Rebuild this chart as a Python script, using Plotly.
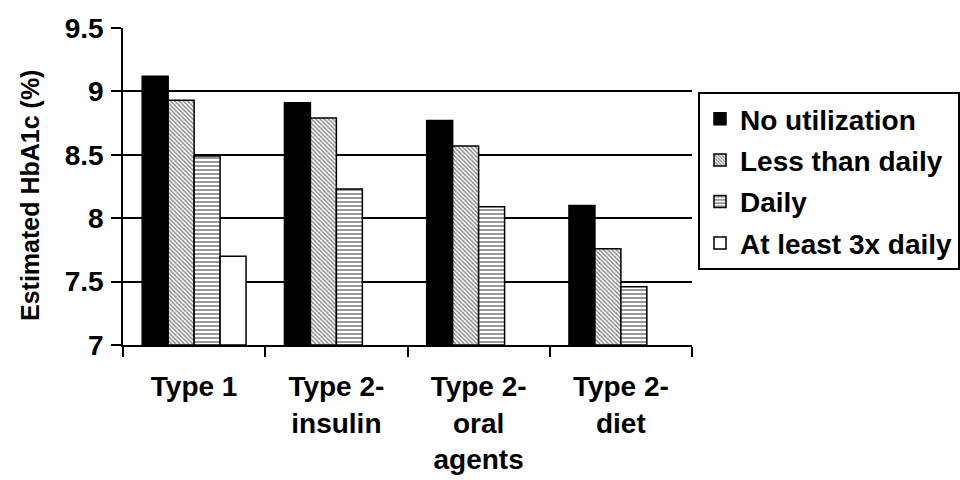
import plotly.graph_objects as go

categories = ["Type 1", "Type 2-<br>insulin", "Type 2-<br>oral<br>agents", "Type 2-<br>diet"]
series_names = ["No utilization", "Less than daily", "Daily", "At least 3x daily"]
no_util = [9.12, 8.91, 8.77, 8.10]
less_daily = [8.93, 8.79, 8.57, 7.76]
daily = [8.49, 8.23, 8.09, 7.46]
three_x = [7.70, None, None, None]
y_ticks = [7, 7.5, 8, 8.5, 9, 9.5]
y_tick_labels = ["7", "7.5", "8", "8.5", "9", "9.5"]
y_title = "Estimated HbA1c (%)"

FONT = "Liberation Sans, Arial, sans-serif"

styles = [
    dict(color="black", pattern=None),
    dict(color="white", pattern=dict(shape="\\", fgcolor="black", bgcolor="white", size=3, solidity=0.45)),
    dict(color="white", pattern=dict(shape="-", fgcolor="black", bgcolor="white", size=4, solidity=0.4)),
    dict(color="white", pattern=None),
]

fig = go.Figure()
for i, (name, vals) in enumerate(zip(series_names, [no_util, less_daily, daily, three_x])):
    st = styles[i]
    marker = dict(color=st["color"], line=dict(color="black", width=1.5))
    if st["pattern"]:
        marker["pattern"] = st["pattern"]
    fig.add_trace(go.Bar(
        x=categories, y=[v - 7 if v is not None else None for v in vals], base=7,
        name=name, marker=marker, legendgroup=f"g{i}",
    ))

L, R, T, B = 123, 268, 28, 135
pw, ph = 960 - L - R, 480 - T - B

fig.update_layout(
    width=960, height=480,
    paper_bgcolor="white", plot_bgcolor="white",
    margin=dict(l=L, r=R, t=T, b=B, autoexpand=False),
    barmode="group", bargap=0.27, bargroupgap=0,
    font=dict(family=FONT, size=28, color="black", weight="bold"),
    showlegend=True,
    legend=dict(
        x=(698 - L) / pw, y=(480 - B - 92) / ph, xanchor="left", yanchor="top",
        bordercolor="black", borderwidth=2, bgcolor="white",
        font=dict(family=FONT, size=28, color="black", weight="bold"),
        tracegroupgap=2,
    ),
    xaxis=dict(
        showline=True, linecolor="black", linewidth=1.5,
        ticks="outside", tickson="boundaries", ticklen=10, tickcolor="black", tickwidth=1.5,
        tickfont=dict(family=FONT, size=28, color="black", weight="bold"),
        ticklabelstandoff=16,
        showgrid=False, automargin=False,
    ),
    yaxis=dict(
        range=[7, 9.5], tickvals=y_ticks, ticktext=y_tick_labels,
        showline=True, linecolor="black", linewidth=1.5,
        ticks="outside", ticklen=10, tickcolor="black", tickwidth=1.5,
        ticklabelstandoff=2,
        showgrid=True, gridcolor="black", gridwidth=1.5,
        tickfont=dict(family=FONT, size=28, color="black", weight="bold"),
        zeroline=False, automargin=False,
    ),
    annotations=[dict(
        text=y_title, textangle=-90, showarrow=False,
        xref="paper", yref="paper", x=(30 - L) / pw, y=(480 - B - 196) / ph,
        xanchor="center", yanchor="middle",
        font=dict(family=FONT, size=25, color="black", weight="bold"),
    )],
)

fig.write_html("out.html", config={"displayModeBar": False},
               post_script="document.body.style.margin='0';")
